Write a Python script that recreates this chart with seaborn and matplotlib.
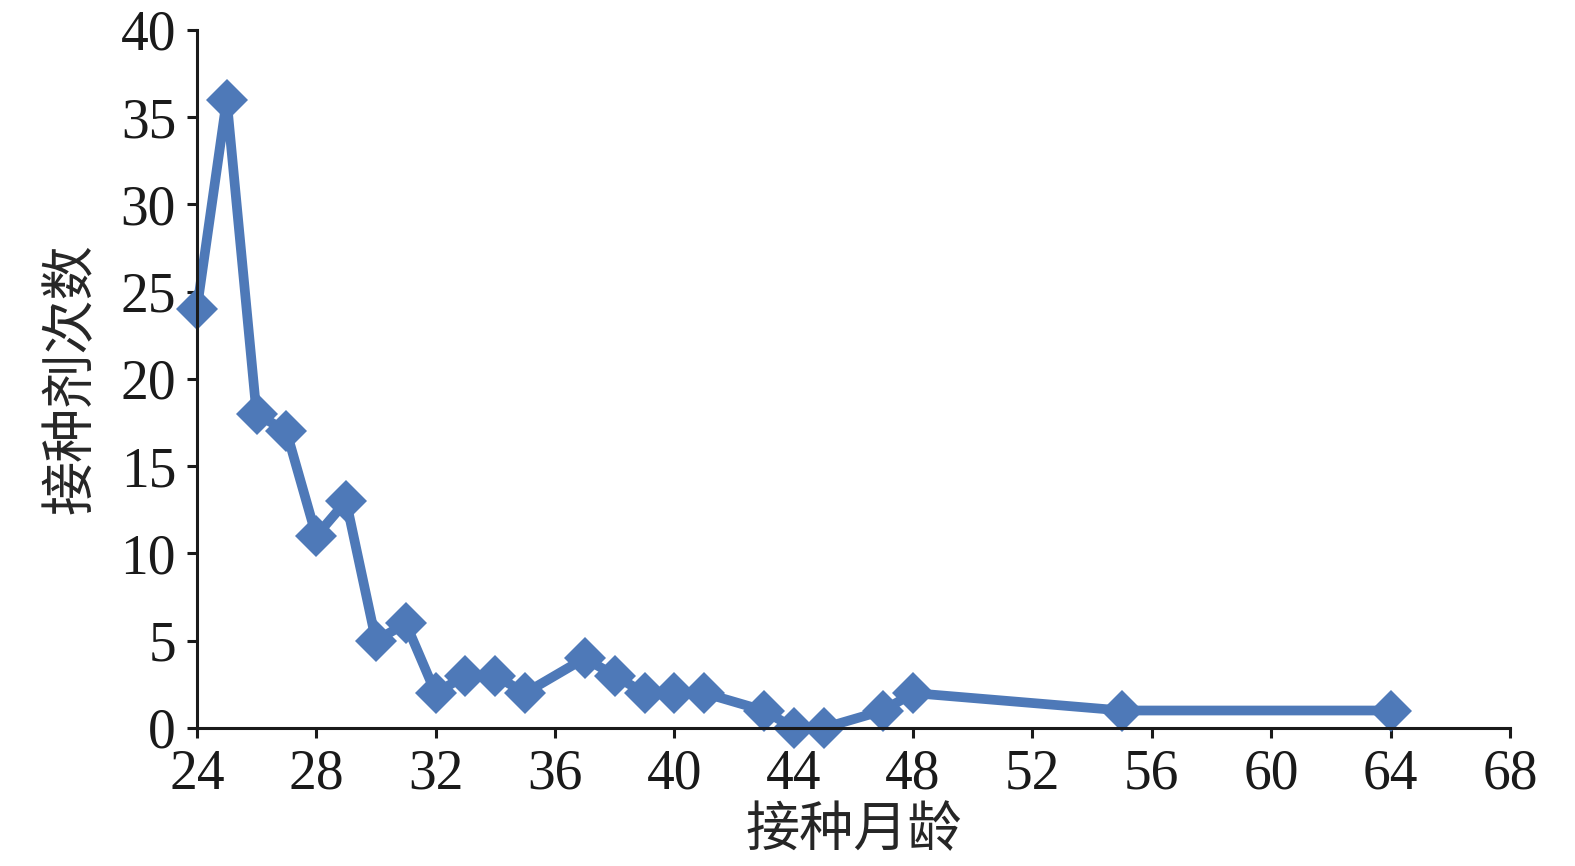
import numpy as np
import pandas as pd
import matplotlib
matplotlib.use('Agg')
import matplotlib.pyplot as plt
import seaborn as sns

# ── Data ─────────────────────────────────────────────────────
months = [24, 25, 26, 27, 28, 29, 30, 31, 32, 33, 34, 35, 37, 38, 39, 40, 41,
          43, 44, 45, 47, 48, 55, 64]
doses  = [24, 36, 18, 17, 11, 13, 5, 6, 2, 3, 3, 2, 4, 3, 2, 2, 2,
          1, 0, 0, 1, 2, 1, 1]
x_ticks = list(range(24, 69, 4))
y_ticks = list(range(0, 41, 5))
x_label = '接种月龄'
y_label = '接种剂次数'

df = pd.DataFrame({'month': months, 'doses': doses})

# ── Style ────────────────────────────────────────────────────
sns.set_style('ticks')
plt.rcParams['font.family'] = ['Liberation Serif', 'Noto Sans CJK SC']
plt.rcParams['axes.linewidth'] = 2.2
plt.rcParams['xtick.major.width'] = 2.2
plt.rcParams['ytick.major.width'] = 2.2
plt.rcParams['xtick.major.size'] = 7
plt.rcParams['ytick.major.size'] = 7
plt.rcParams['axes.edgecolor'] = '#1a1a1a'

line_color = '#4E79B8'

fig = plt.figure(figsize=(15.75, 8.66), dpi=100)
ax = fig.add_axes([0.125, 0.1594, 0.8337, 0.806])

sns.lineplot(data=df, x='month', y='doses', ax=ax, color=line_color,
             linewidth=7, marker='D', markersize=21, markeredgewidth=0,
             clip_on=False)

ax.set_xlim(24, 68)
ax.set_ylim(0, 40)
ax.set_xticks(x_ticks)
ax.set_yticks(y_ticks)
ax.tick_params(axis='both', labelsize=40, colors='#1a1a1a', direction='out')
ax.tick_params(axis='x', pad=8)
ax.tick_params(axis='y', pad=8)

ax.set_xlabel(x_label, fontsize=39, family=['Noto Sans CJK SC'], labelpad=2)
ax.set_ylabel(y_label, fontsize=39, family=['Noto Sans CJK SC'], labelpad=16)

sns.despine(ax=ax)

fig.savefig('out.png', dpi=100)
